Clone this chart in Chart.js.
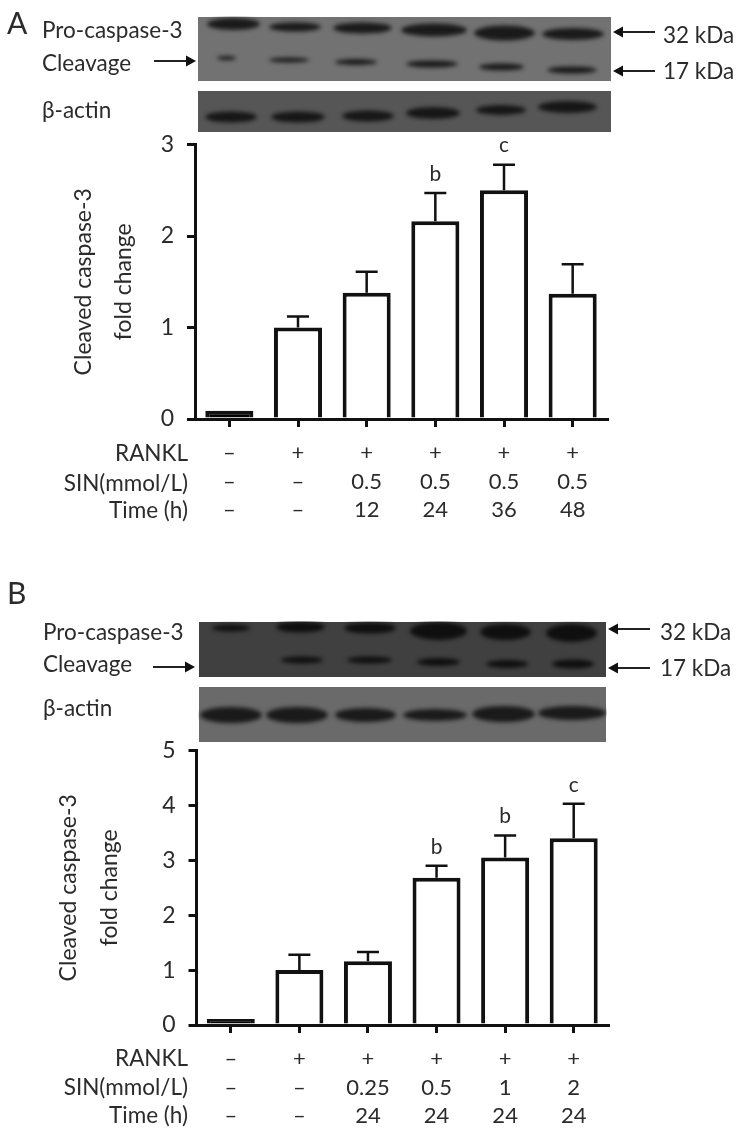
<!DOCTYPE html>
<html>
<head>
<meta charset="utf-8">
<script src="https://cdn.jsdelivr.net/npm/chart.js@4"></script>
<style>
  html, body { margin: 0; padding: 0; background: #fff; }
  #page { position: relative; width: 740px; height: 1131px; overflow: hidden; filter: blur(0.4px); }
  canvas { position: absolute; left: 0; }
  .t { position: absolute; font-family: Lato, sans-serif; font-size: 22.5px; color: #2b2b2b; line-height: 24px; white-space: nowrap; }
  .r { text-align: right; width: 180px; left: 8px; }
  .big { font-size: 30px; line-height: 32px; }
</style>
</head>
<body>
<div id="page">
  <canvas id="blots" width="740" height="1131" style="top:0"></canvas>
  <canvas id="chartA" width="740" height="410" style="top:120px"></canvas>
  <canvas id="chartB" width="740" height="405" style="top:726px"></canvas>

  <div class="t big" style="left:7px;top:6px">A</div>
  <div class="t" style="left:42px;top:18px">Pro-caspase-3</div>
  <div class="t" style="left:42px;top:51px">Cleavage</div>
  <div class="t" style="left:42px;top:98px">β-actin</div>
  <div class="t" style="left:663px;top:23px">32 kDa</div>
  <div class="t" style="left:663px;top:59px">17 kDa</div>
  <div class="t r" style="top:441px">RANKL</div>
  <div class="t r" style="top:471px">SIN(mmol/L)</div>
  <div class="t r" style="top:498px">Time (h)</div>

  <div class="t big" style="left:7px;top:576px">B</div>
  <div class="t" style="left:43px;top:620px">Pro-caspase-3</div>
  <div class="t" style="left:43px;top:652px">Cleavage</div>
  <div class="t" style="left:43px;top:696px">β-actin</div>
  <div class="t" style="left:660px;top:620px">32 kDa</div>
  <div class="t" style="left:660px;top:656px">17 kDa</div>
  <div class="t r" style="top:1046px">RANKL</div>
  <div class="t r" style="top:1075px">SIN(mmol/L)</div>
  <div class="t r" style="top:1103px">Time (h)</div>
</div>

<script>
// panel A values
const rankl = ['–', '+', '+', '+', '+', '+'];
const sinA = ['–', '–', '0.5', '0.5', '0.5', '0.5'];
const timeA = ['–', '–', '12', '24', '36', '48'];
const foldA = [0.09, 1.0, 1.38, 2.16, 2.5, 1.37];
const errTopA = [null, 1.12, 1.61, 2.47, 2.78, 1.69];
const lettersA = ['', '', '', 'b', 'c', ''];
const ticksA = [0, 1, 2, 3];

// panel B values
const sinB = ['–', '–', '0.25', '0.5', '1', '2'];
const timeB = ['–', '–', '24', '24', '24', '24'];
const foldB = [0.11, 1.0, 1.16, 2.68, 3.05, 3.4];
const errTopB = [null, 1.28, 1.33, 2.9, 3.45, 4.03];
const lettersB = ['', '', '', 'b', 'b', 'c'];
const ticksB = [0, 1, 2, 3, 4, 5];

const ink = '#111';
const textCol = '#2b2b2b';
const fontName = 'Lato, sans-serif';

// error bars and significance letters, placed through the chart scales
const errorBars = {
  id: 'errorBars',
  afterDatasetsDraw(chart, args, opts) {
    const { ctx, scales: { x, y } } = chart;
    ctx.save();
    ctx.strokeStyle = ink;
    ctx.lineWidth = 2.5;
    opts.tops.forEach((top, i) => {
      if (top === null) return;
      const px = x.getPixelForValue(i);
      const yTop = y.getPixelForValue(top);
      ctx.beginPath();
      ctx.moveTo(px, y.getPixelForValue(opts.values[i]));
      ctx.lineTo(px, yTop);
      ctx.moveTo(px - 11, yTop);
      ctx.lineTo(px + 11, yTop);
      ctx.stroke();
      if (opts.letters[i]) {
        ctx.fillStyle = textCol;
        ctx.font = '21px ' + fontName;
        ctx.textAlign = 'center';
        ctx.textBaseline = 'middle';
        ctx.fillText(opts.letters[i], px, yTop - 19);
      }
    });
    ctx.restore();
  }
};

function makeChart(id, rows, values, tops, letters, tickVals, cfg) {
  const labels = values.map((v, i) => rows.map(r => r[i]));
  return new Chart(document.getElementById(id), {
    type: 'bar',
    data: {
      labels: labels,
      datasets: [{
        data: values,
        backgroundColor: values.map((v, i) => i === 0 ? '#000' : '#fff'),
        borderColor: ink,
        borderWidth: 4,
        barPercentage: 0.7,
        categoryPercentage: 1
      }]
    },
    options: {
      responsive: false,
      animation: false,
      layout: { padding: { left: cfg.left, top: cfg.top, right: 740 - cfg.right, bottom: 0 } },
      plugins: {
        legend: { display: false },
        tooltip: { enabled: false },
        errorBars: { tops: tops, values: values, letters: letters }
      },
      scales: {
        x: {
          afterFit(s) { s.height = cfg.xHeight; },
          grid: { drawOnChartArea: false, offset: false, color: ink, lineWidth: 3, tickLength: 8 },
          border: { color: ink, width: 3 },
          ticks: {
            autoSkip: false, maxRotation: 0, padding: cfg.rowPad, color: textCol,
            font: { family: fontName, size: 22, lineHeight: cfg.rowLine }
          }
        },
        y: {
          min: 0,
          max: tickVals[tickVals.length - 1],
          afterFit(s) { s.width = cfg.plotLeft - cfg.left; },
          afterBuildTicks(s) { s.ticks = tickVals.map(v => ({ value: v })); },
          grid: { drawOnChartArea: false, color: ink, lineWidth: 3, tickLength: 8 },
          border: { color: ink, width: 3 },
          ticks: {
            padding: 13, color: textCol,
            font: { family: fontName, size: 23, lineHeight: 1 }
          },
          title: {
            display: true,
            text: ['Cleaved caspase-3', 'fold change'],
            color: textCol,
            padding: 0,
            font: { family: fontName, size: 23, lineHeight: cfg.titleLine }
          }
        }
      }
    },
    plugins: [errorBars]
  });
}

makeChart('chartA', [rankl, sinA, timeA], foldA, errTopA, lettersA, ticksA,
  { left: 64, plotLeft: 195, right: 607, top: 13, xHeight: 111, rowPad: 12, rowLine: '28.5px', titleLine: '40px' });
makeChart('chartB', [rankl, sinB, timeB], foldB, errTopB, lettersB, ticksB,
  { left: 48, plotLeft: 196.5, right: 608, top: 6, xHeight: 106, rowPad: 12, rowLine: '28.5px', titleLine: '41px' });

// western blot strips: each band is [x0, x1, y, thickness]
const strips = [
  { box: [198, 17, 413, 64], bg: '#727272', band: '#1a1a1a', bands: [
    [207, 260, 24, 10], [269, 321, 27, 7], [333, 392, 28, 9], [401, 467, 30, 11], [474, 535, 33, 13], [542, 604, 34, 10],
    [217, 236, 58, 2], [269, 309, 60, 3], [335, 377, 62, 4], [406, 458, 64, 5], [479, 524, 67, 5], [547, 597, 70, 5]
  ] },
  { box: [198, 91, 413, 41], bg: '#565656', band: '#161616', bands: [
    [205, 257, 117, 9], [271, 325, 117, 9], [342, 394, 116, 9], [406, 460, 113, 10], [476, 526, 110, 8], [538, 597, 107, 10]
  ] },
  { box: [199, 622, 407, 55], bg: '#404040', band: '#0f0f0f', bands: [
    [212, 250, 628, 5], [276, 325, 627, 9], [344, 396, 628, 9], [410, 467, 631, 16], [480, 531, 632, 14], [546, 597, 633, 16],
    [281, 323, 660, 5], [347, 392, 660, 5], [417, 460, 662, 6], [486, 528, 664, 6], [552, 594, 664, 7]
  ] },
  { box: [199, 687, 407, 55], bg: '#6a6a6a', band: '#1a1a1a', bands: [
    [200, 262, 715, 14], [266, 328, 715, 14], [335, 396, 715, 12], [403, 467, 715, 10], [472, 535, 714, 14], [538, 606, 713, 12]
  ] }
];
// arrows: [tailX, tipX, y]
const arrows = [[154, 196, 61], [655, 613, 32], [655, 613, 71], [153, 195, 667], [650, 608, 629], [650, 608, 668]];

const bg = document.getElementById('blots').getContext('2d');
strips.forEach(s => {
  const [x, y, w, h] = s.box;
  bg.save();
  bg.beginPath();
  bg.rect(x - 1, y - 1, w + 2, h + 2);
  bg.clip();
  bg.fillStyle = s.bg;
  bg.fillRect(x, y, w, h);
  bg.filter = 'blur(2px)';
  bg.fillStyle = s.band;
  s.bands.forEach(b => {
    bg.beginPath();
    bg.ellipse((b[0] + b[1]) / 2, b[2], (b[1] - b[0]) / 2, b[3] / 2 + 1, 0, 0, Math.PI * 2);
    bg.fill();
  });
  bg.restore();
});
bg.strokeStyle = '#222';
bg.fillStyle = '#111';
bg.lineWidth = 2;
arrows.forEach(([tail, tip, y]) => {
  const dir = Math.sign(tip - tail);
  bg.beginPath();
  bg.moveTo(tail, y);
  bg.lineTo(tip - dir * 8, y);
  bg.stroke();
  bg.beginPath();
  bg.moveTo(tip, y);
  bg.lineTo(tip - dir * 10, y - 5.5);
  bg.lineTo(tip - dir * 10, y + 5.5);
  bg.closePath();
  bg.fill();
});
</script>
</body>
</html>
